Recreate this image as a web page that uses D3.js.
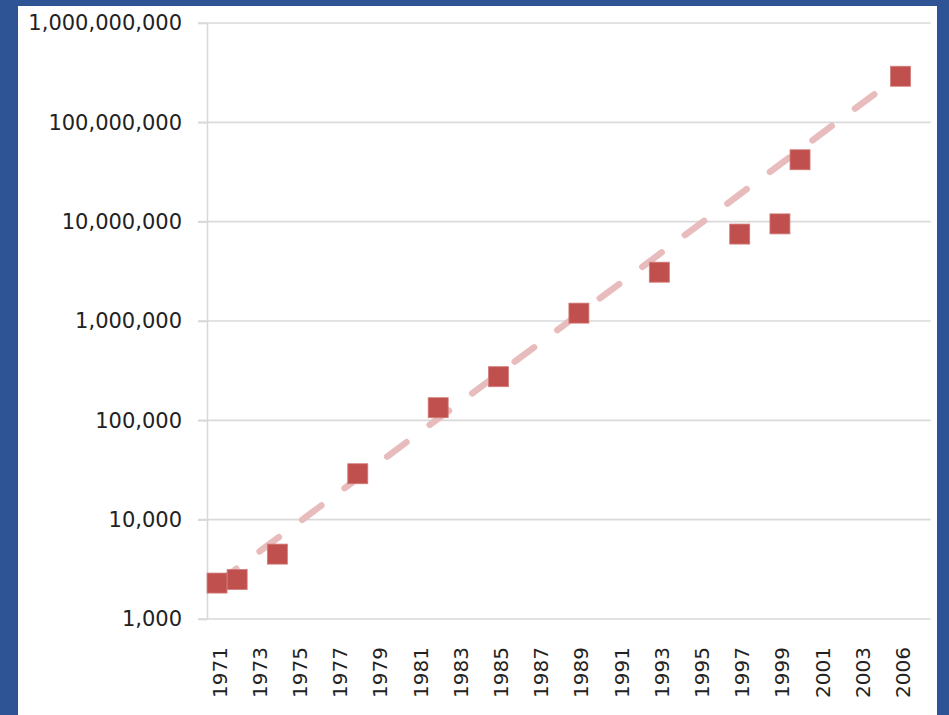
<!DOCTYPE html>
<html>
<head>
<meta charset="utf-8">
<script src="https://cdn.jsdelivr.net/npm/d3@7/dist/d3.min.js"></script>
<style>
  html, body { margin: 0; padding: 0; background: #2E5496; }
  svg { display: block; }
</style>
</head>
<body>
<svg id="chart" width="949" height="715"></svg>
<script>
// ---- Data ----
const categories = ["1971","1972","1973","1974","1975","1976","1977","1978","1979","1980",
  "1981","1982","1983","1984","1985","1986","1987","1988","1989","1990",
  "1991","1992","1993","1994","1995","1996","1997","1998","1999","2000",
  "2001","2002","2003","2004","2006","2008"];
const tickLabels = ["1971","1973","1975","1977","1979","1981","1983","1985","1987",
  "1989","1991","1993","1995","1997","1999","2001","2003","2006"];
const pointYears  = ["1971","1972","1974","1978","1982","1985","1989","1993","1997","1999","2000","2006"];
const pointValues = [2300, 2500, 4500, 29000, 134000, 275000, 1200000, 3100000, 7500000, 9500000, 42000000, 291000000];
const trendYears  = ["1971", "2006"];
const trendValues = [2300, 301000000];
const yTicks = [1e3, 1e4, 1e5, 1e6, 1e7, 1e8, 1e9];

// ---- Layout ----
const svg = d3.select("#chart");
const W = 949, H = 715;
const plotL = 207, plotR = 930.7, plotT = 23, plotB = 619;

svg.append("rect").attr("x", 0).attr("y", 0).attr("width", W).attr("height", H).attr("fill", "#2E5496");
svg.append("rect").attr("x", 18).attr("y", 6).attr("width", 919).attr("height", H - 6).attr("fill", "#ffffff");

const x = d3.scaleBand().domain(categories).range([plotL, plotR]).padding(0);
const y = d3.scaleLog().domain([1e3, 1e9]).range([plotB, plotT]);
const cx = d => x(d) + x.bandwidth() / 2;

const gridColor = "#d9d9d9";
const fmt = d3.format(",");

// gridlines
svg.append("g").selectAll("line").data(yTicks).join("line")
  .attr("x1", 198).attr("x2", plotR)
  .attr("y1", d => y(d)).attr("y2", d => y(d))
  .attr("stroke", gridColor).attr("stroke-width", 1.6);

// y axis
const yAxis = svg.append("g").attr("transform", `translate(${plotL},0)`)
  .call(d3.axisLeft(y).tickValues(yTicks).tickFormat(fmt).tickSize(9).tickSizeOuter(0).tickPadding(16));
yAxis.select(".domain").attr("stroke", gridColor).attr("stroke-width", 1.6);
yAxis.selectAll(".tick line").attr("stroke", gridColor).attr("stroke-width", 1.6);
yAxis.selectAll(".tick text")
  .attr("font-family", "DejaVu Sans, Verdana, sans-serif")
  .attr("font-size", 21).attr("fill", "#222");

// x axis labels
const xAxis = svg.append("g").attr("transform", `translate(0,${plotB})`)
  .call(d3.axisBottom(x).tickValues(tickLabels).tickSize(0).tickSizeOuter(0));
xAxis.select(".domain").remove();
xAxis.selectAll(".tick text")
  .attr("font-family", "DejaVu Sans, Verdana, sans-serif")
  .attr("font-size", 20).attr("fill", "#222")
  .attr("text-anchor", "end")
  .attr("transform", "translate(2.5,28) rotate(-90)")
  .attr("x", 0).attr("y", 0).attr("dy", "0.35em");

// trend line
const trend = trendYears.map((t, i) => ({ cat: t, v: trendValues[i] }));
svg.append("path").datum(trend)
  .attr("d", d3.line().x(d => cx(d.cat)).y(d => y(d.v)))
  .attr("fill", "none").attr("stroke", "#e8bcbc")
  .attr("stroke-width", 6.5).attr("stroke-linecap", "round")
  .attr("stroke-dasharray", "24 29");

// markers
const pts = pointYears.map((t, i) => ({ cat: t, v: pointValues[i] }));
const ms = 20;
svg.append("g").selectAll("rect").data(pts).join("rect")
  .attr("x", d => cx(d.cat) - ms / 2).attr("y", d => y(d.v) - ms / 2)
  .attr("width", ms).attr("height", ms)
  .attr("fill", "#C0504D").attr("stroke", "#d27c79").attr("stroke-width", 0.8);
</script>
</body>
</html>
